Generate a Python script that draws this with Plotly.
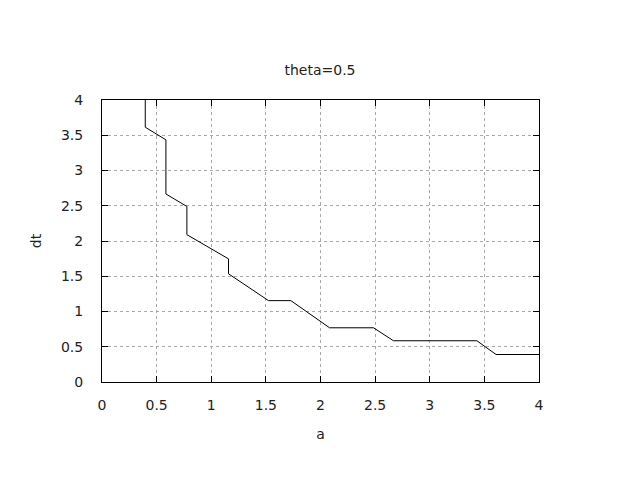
import plotly.graph_objects as go

a_vals = [0.396, 0.396, 0.585, 0.585, 0.777, 0.777, 1.158, 1.158, 1.524, 1.729, 2.083, 2.485, 2.668, 3.431, 3.607, 4.0]
dt_vals = [4.0, 3.614, 3.435, 2.667, 2.49, 2.09, 1.747, 1.535, 1.154, 1.154, 0.769, 0.769, 0.585, 0.585, 0.39, 0.39]

x_ticks = [0, 0.5, 1, 1.5, 2, 2.5, 3, 3.5, 4]
y_ticks = [0, 0.5, 1, 1.5, 2, 2.5, 3, 3.5, 4]

font = dict(family="DejaVu Sans", size=14, color="#222222")
axis_common = dict(
    showline=True, linecolor="black", linewidth=1, mirror="ticks",
    ticks="inside", ticklen=6, tickcolor="black", tickwidth=1,
    showgrid=True, gridcolor="#a8a8a8", griddash="dot", gridwidth=1,
    zeroline=False, tickfont=font,
)

fig = go.Figure()
fig.add_trace(go.Scatter(x=a_vals, y=dt_vals, mode="lines",
                         line=dict(color="black", width=1), showlegend=False))

fig.update_xaxes(range=[0, 4], tickvals=x_ticks, ticktext=[str(v) for v in x_ticks],
                 title=dict(text="a", font=font, standoff=17), ticklabelstandoff=10,
                 **axis_common)
fig.update_yaxes(range=[0, 4], tickvals=y_ticks, ticktext=[str(v) for v in y_ticks],
                 title=dict(text="dt", font=font, standoff=16), ticklabelstandoff=15,
                 **axis_common)
# page body has an 8px margin; offset margins so the plot frame lands at (102..539, 100..382)
fig.update_layout(
    width=640, height=480,
    margin=dict(l=94, r=109, t=92, b=106, autoexpand=False),
    paper_bgcolor="white", plot_bgcolor="white",
    title=dict(text="theta=0.5", x=(320 - 8) / 640, xanchor="center",
               y=1 - (70.5 - 8) / 480, yanchor="middle",
               font=dict(family="DejaVu Sans", size=14, color="#222222")),
)
fig.write_html("out.html")
